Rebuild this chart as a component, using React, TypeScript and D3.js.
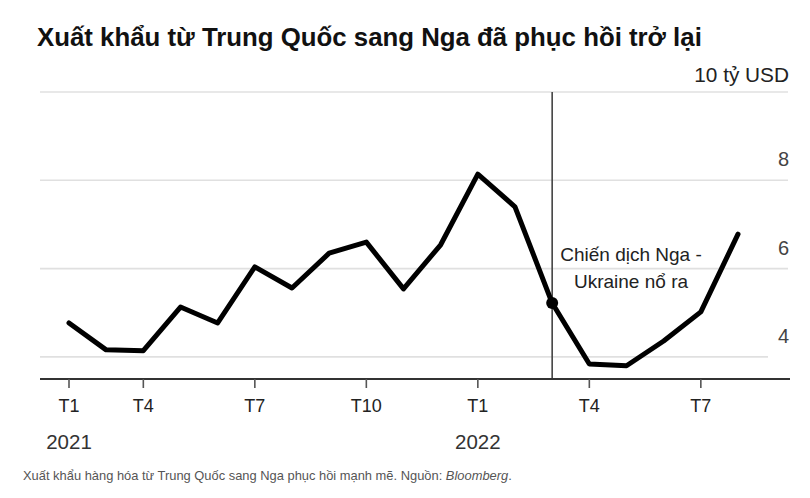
import React from "react";
import * as d3 from "d3";

// tháng (T1 2021 … T8 2022), giá trị tính theo 10 tỷ USD
const months = [
  "2021-01", "2021-03", "2021-04", "2021-05", "2021-06", "2021-07", "2021-08",
  "2021-09", "2021-10", "2021-11", "2021-12", "2022-01", "2022-02", "2022-03",
  "2022-04", "2022-05", "2022-06", "2022-07", "2022-08",
];
const exports = [
  4.77, 4.16, 4.14, 5.13, 4.77, 6.04, 5.56, 6.35, 6.6, 5.54, 6.54, 8.14, 7.4,
  5.22, 3.84, 3.8, 4.36, 5.02, 6.78,
];
const tickMonths = ["2021-01", "2021-04", "2021-07", "2021-10", "2022-01", "2022-04", "2022-07"];
const tickLabels = ["T1", "T4", "T7", "T10", "T1", "T4", "T7"];
const yearMonths = ["2021-01", "2022-01"];
const yearLabels = ["2021", "2022"];
const yTicks = [4, 6, 8, 10];
const eventMonth = "2022-03";

const W = 810;
const H = 498;
const FONT = "'Liberation Sans', Arial, sans-serif";

const App: React.FC = () => {
  const x = d3.scalePoint<string>().domain(months).range([69, 738]);
  const y = d3.scaleLinear().domain([3.5, 10]).range([379, 92]);

  const line = d3
    .line<number>()
    .x((_, i) => x(months[i]) as number)
    .y((d) => y(d));

  const baseY = y(3.5);
  const ex = x(eventMonth) as number;
  const ey = y(exports[months.indexOf(eventMonth)]);

  return (
    <svg
      width={W}
      height={H}
      style={{ position: "absolute", left: 0, top: 0, background: "#fff" }}
      fontFamily={FONT}
    >
      <text x={37} y={46} fontSize={25.8} fontWeight="bold" fill="#111">
        Xuất khẩu từ Trung Quốc sang Nga đã phục hồi trở lại
      </text>

      {/* lưới ngang */}
      {yTicks.map((t) => (
        <line
          key={t}
          x1={40}
          x2={t === 4 ? 768 : 788}
          y1={y(t)}
          y2={y(t)}
          stroke="#e0e0e0"
          strokeWidth={1.6}
        />
      ))}
      {yTicks.map((t) => (
        <text
          key={"l" + t}
          x={789}
          y={t === 10 ? 82 : y(t) - 14}
          textAnchor="end"
          fontSize={t === 10 ? 20.8 : 20}
          fill={t === 10 ? "#222" : "#444"}
        >
          {t === 10 ? "10 tỷ USD" : t}
        </text>
      ))}

      {/* đường sự kiện */}
      <line x1={ex} x2={ex} y1={y(10)} y2={baseY} stroke="#444" strokeWidth={1.6} />

      <path
        d={line(exports) ?? ""}
        fill="none"
        stroke="#000"
        strokeWidth={5}
        strokeLinejoin="round"
        strokeLinecap="round"
      />
      <circle cx={ex} cy={ey} r={6} fill="#000" />

      <text textAnchor="middle" fontSize={19} fill="#222">
        <tspan x={631} y={261}>Chiến dịch Nga -</tspan>
        <tspan x={631} y={288}>Ukraine nổ ra</tspan>
      </text>

      {/* trục x */}
      <line x1={40} x2={790} y1={baseY} y2={baseY} stroke="#333" strokeWidth={2} />
      {tickMonths.map((m, i) => (
        <g key={m} transform={`translate(${x(m)},0)`}>
          <line y1={baseY} y2={baseY + 9} stroke="#555" strokeWidth={1.6} />
          <text y={412} textAnchor="middle" fontSize={18} fill="#222">
            {tickLabels[i]}
          </text>
        </g>
      ))}
      {yearMonths.map((m, i) => (
        <text key={m} x={x(m)} y={449} textAnchor="middle" fontSize={20.5} fill="#333">
          {yearLabels[i]}
        </text>
      ))}

      <text x={23} y={480} fontSize={12.9} fill="#555">
        Xuất khẩu hàng hóa từ Trung Quốc sang Nga phục hồi mạnh mẽ. Nguồn:{" "}
        <tspan fontStyle="italic">Bloomberg</tspan>.
      </text>
    </svg>
  );
};

export default App;
